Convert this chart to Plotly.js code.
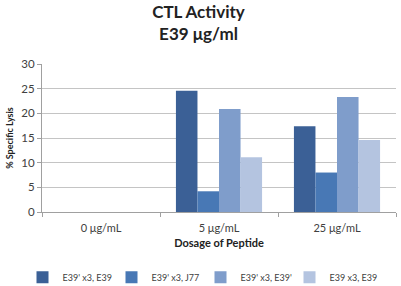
<!DOCTYPE html>
<html><head><meta charset="utf-8">
<script src="https://cdn.plot.ly/plotly-3.0.1.min.js"></script>
<style>html,body{margin:0;padding:0;background:#fff}#c{width:401px;height:286px}</style>
</head><body><div id="c"></div>
<script>
const categories = ['0 μg/mL', '5 μg/mL', '25 μg/mL'];
const seriesNames = ["E39' x3, E39", "E39' x3, J77", "E39' x3, E39'", "E39 x3, E39"];
const s1 = [0, 24.6, 17.4];
const s2 = [0, 4.2, 8.0];
const s3 = [0, 20.9, 23.3];
const s4 = [0, 11.1, 14.6];
const yTicks = [0, 5, 10, 15, 20, 25, 30];

const colors = ['#3B6096', '#4878B5', '#7F9DCB', '#B4C4E0'];
const values = [s1, s2, s3, s4];
const font = 'Lato, "Open Sans", sans-serif';

const data = values.map((v, i) => ({
  type: 'bar', x: categories, y: v, name: seriesNames[i],
  marker: {color: colors[i], line: {width: 0}}, hoverinfo: 'none'
}));

const layout = {
  width: 401, height: 286,
  margin: {l: 42, r: 5, t: 64, b: 74},
  paper_bgcolor: '#fff', plot_bgcolor: '#fff',
  font: {family: font, size: 11, color: '#404040'},
  title: {text: '<b>CTL Activity</b><br><b>E39 μg/ml</b>', x: 0.495, xanchor: 'center',
          xref: 'container', yref: 'container', y: 0.936, yanchor: 'middle',
          font: {family: font, size: 17, color: '#222'}},
  barmode: 'group', bargap: 0.27, bargroupgap: 0,
  showlegend: true,
  legend: {orientation: 'h', xref: 'container', yref: 'container', x: 0.5, xanchor: 'center',
           y: 0.031, yanchor: 'middle',
           font: {size: 9, color: '#404040'}, itemwidth: 30,
           entrywidth: 44, entrywidthmode: 'pixels', tracegroupgap: 0, traceorder: 'normal'},
  xaxis: {type: 'category', showline: true, linecolor: '#A0A0A0', linewidth: 1, automargin: true,
          ticks: 'outside', tickson: 'boundaries', ticklen: 4, tickcolor: '#A0A0A0',
          ticklabelstandoff: 6,
          tickfont: {size: 11, color: '#404040'},
          title: {text: '<b>Dosage of Peptide</b>', font: {size: 11, color: '#222'}, standoff: 6},
          fixedrange: true},
  yaxis: {range: [0, 30], tickvals: yTicks, ticktext: yTicks.map(String), automargin: false,
          showgrid: true, gridcolor: '#C4C4C4', gridwidth: 1, zeroline: false,
          showline: true, linecolor: '#A0A0A0', ticks: 'outside', ticklen: 4, tickcolor: '#A0A0A0',
          tickfont: {size: 11.5, color: '#404040'},
          title: {text: '<b>% Specific Lysis</b>', font: {size: 9, color: '#222'}, standoff: 6},
          fixedrange: true}
};
Plotly.newPlot('c', data, layout, {displayModeBar: false, staticPlot: true});
</script></body></html>
